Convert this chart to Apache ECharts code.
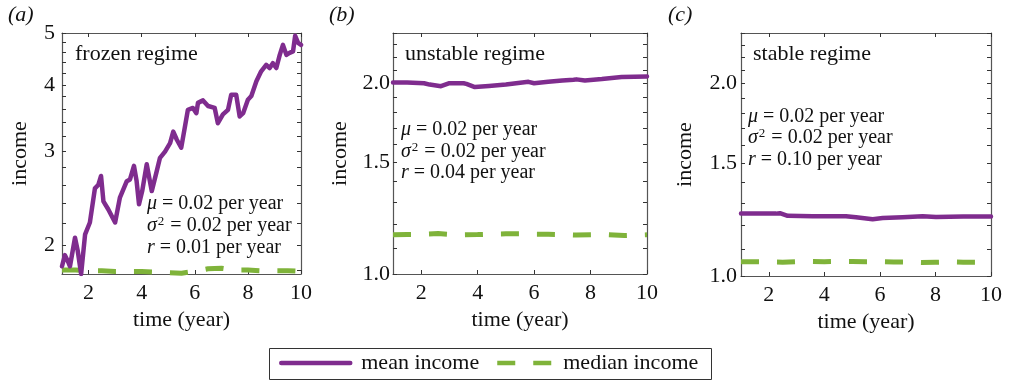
<!DOCTYPE html>
<html>
<head>
<meta charset="utf-8">
<script src="https://cdn.jsdelivr.net/npm/echarts@6/dist/echarts.min.js"></script>
<style>
html, body { margin: 0; padding: 0; background: #fff; }
#chart { width: 1010px; height: 382px; }
</style>
</head>
<body>
<div id="chart"></div>
<script>
// Panel texts
const panelLabels = ['(a)', '(b)', '(c)'];
const regimeNames = ['frozen regime', 'unstable regime', 'stable regime'];
const muValues = ['0.02', '0.02', '0.02'];
const sigma2Values = ['0.02', '0.02', '0.02'];
const rValues = ['0.01', '0.04', '0.10'];
const seriesNames = ['mean income', 'median income'];

// Tick values
const xTicks = [2, 4, 6, 8, 10];
const frozenTickLabels = [2, 3, 4, 5];
const frozenMinorTicks = [1.8, 2.0, 2.2, 2.4, 2.6, 2.8, 3.0, 3.2, 3.4, 3.6, 3.8, 4.0, 4.2, 4.4, 4.6, 4.8, 5.0];
const otherTickLabels = [1.0, 1.5, 2.0];
const otherMinorTicks = [1.0, 1.1, 1.2, 1.3, 1.4, 1.5, 1.6, 1.7, 1.8, 1.9, 2.0, 2.1, 2.2, 2.3, 2.4];

// (a) frozen regime: [time (year), income]
const frozenMean = [
  [1.00, 1.83], [1.11, 1.92], [1.22, 1.87], [1.30, 1.83], [1.49, 2.07], [1.59, 1.96],
  [1.72, 1.77], [1.87, 2.10], [2.05, 2.21], [2.24, 2.56], [2.37, 2.60], [2.47, 2.70],
  [2.56, 2.42], [2.74, 2.34], [3.00, 2.21], [3.18, 2.46], [3.44, 2.64], [3.56, 2.66],
  [3.71, 2.82], [3.81, 2.64], [3.90, 2.39], [4.02, 2.53], [4.19, 2.84], [4.38, 2.53],
  [4.57, 2.76], [4.69, 2.92], [4.88, 3.00], [5.07, 3.11], [5.19, 3.27], [5.32, 3.16],
  [5.49, 3.05], [5.62, 3.32], [5.74, 3.59], [5.93, 3.62], [6.06, 3.54], [6.12, 3.70],
  [6.31, 3.74], [6.50, 3.65], [6.75, 3.62], [6.87, 3.39], [7.06, 3.52], [7.25, 3.59],
  [7.37, 3.83], [7.56, 3.83], [7.69, 3.49], [7.82, 3.54], [8.00, 3.75], [8.13, 3.81],
  [8.32, 4.06], [8.50, 4.24], [8.69, 4.36], [8.82, 4.30], [8.94, 4.39], [9.07, 4.30],
  [9.20, 4.55], [9.32, 4.75], [9.45, 4.55], [9.57, 4.59], [9.70, 4.62], [9.78, 4.94],
  [9.89, 4.79], [10.00, 4.75]
];
const frozenMedian = [
  [1.0, 1.80], [1.5, 1.80], [2.0, 1.795], [2.5, 1.795], [3.0, 1.79], [3.5, 1.79],
  [4.0, 1.79], [4.5, 1.785], [5.0, 1.78], [5.5, 1.776], [6.0, 1.79], [6.5, 1.81],
  [7.0, 1.815], [7.5, 1.80], [8.0, 1.80], [8.5, 1.795], [9.0, 1.795], [9.5, 1.795], [10.0, 1.79]
];

// (b) unstable regime
const unstableMean = [
  [1.0, 2.005], [1.5, 2.005], [2.1, 2.0], [2.3, 1.99], [2.7, 1.978], [3.0, 2.0],
  [3.5, 2.0], [3.6, 1.995], [3.9, 1.972], [4.4, 1.98], [5.0, 1.99], [5.8, 2.01],
  [5.85, 2.015], [6.0, 2.0], [6.5, 2.01], [7.0, 2.02], [7.4, 2.025], [7.5, 2.028],
  [7.8, 2.02], [8.4, 2.03], [9.1, 2.045], [10.0, 2.05]
];
const unstableMedian = [
  [1.0, 1.153], [1.5, 1.154], [2.0, 1.155], [2.6, 1.158], [3.0, 1.155], [3.5, 1.153],
  [4.0, 1.154], [4.5, 1.156], [5.0, 1.157], [5.5, 1.157], [6.0, 1.155], [6.5, 1.155],
  [7.0, 1.154], [7.5, 1.152], [8.0, 1.153], [8.5, 1.154], [9.2, 1.150], [10.0, 1.153]
];

// (c) stable regime
const stableMean = [
  [1.0, 1.252], [2.26, 1.252], [2.4, 1.254], [2.68, 1.242], [3.58, 1.240], [4.78, 1.240],
  [5.14, 1.236], [5.74, 1.227], [6.1, 1.232], [6.82, 1.236], [7.54, 1.240], [8.02, 1.237],
  [9.0, 1.239], [10.0, 1.239]
];
const stableMedian = [
  [1.0, 1.053], [1.5, 1.053], [2.0, 1.052], [2.5, 1.051], [3.0, 1.053], [3.5, 1.054],
  [4.0, 1.053], [4.5, 1.054], [5.0, 1.054], [5.5, 1.053], [6.0, 1.053], [6.5, 1.052],
  [7.0, 1.052], [7.5, 1.050], [8.0, 1.051], [8.5, 1.052], [9.0, 1.051], [10.0, 1.051]
];

const meanData = [frozenMean, unstableMean, stableMean];
const medianData = [frozenMedian, unstableMedian, stableMedian];

const FONT = '"Liberation Serif", "Times New Roman", serif';
const INK = '#111';
const AXIS = '#555';
const PURPLE = '#7f2c8e';
const GREEN = '#7fb33a';
const FS = 22;      // axis, title and legend text
const FS_ANN = 20;  // parameter annotations

// Plot boxes (pixels) and axis settings per panel
const boxes = [
  { left: 62, top: 33, width: 239, height: 241 },
  { left: 393, top: 33, width: 254, height: 241 },
  { left: 741, top: 33, width: 250, height: 243 }
];
const yRanges = [[1.77, 5], [1, 2.4], [1, 2.4]];
const yLabelMargins = [7, 3, 4];
const yNameGaps = [31, 42, 45];
const textBlocks = [
  { titleX: 75, titleY: 54, annX: 147, annY: [204, 226, 248] },
  { titleX: 405, titleY: 54, annX: 401, annY: [130, 152, 173] },
  { titleX: 753, titleY: 54, annX: 748, annY: [117, 138, 160] }
];
const labelX = [8, 329, 668];

const grids = [], xAxes = [], yAxes = [], series = [], graphics = [];

boxes.forEach((b, i) => {
  grids.push({ left: b.left, top: b.top, width: b.width, height: b.height, containLabel: false });
  const tickStyle = { lineStyle: { color: '#333', width: 1 } };
  // bottom + mirrored top x axes
  xAxes.push({
    type: 'value', gridIndex: i, min: 1, max: 10, position: 'bottom',
    name: 'time (year)', nameLocation: 'middle', nameGap: 31,
    nameTextStyle: { fontFamily: FONT, fontSize: FS, color: INK },
    axisLine: { show: true, onZero: false, lineStyle: { color: AXIS, width: 1.2 } },
    axisTick: Object.assign({ show: true, inside: true, length: 4, customValues: xTicks }, tickStyle),
    axisLabel: { show: true, customValues: xTicks, margin: 8, fontFamily: FONT, fontSize: FS, color: INK },
    splitLine: { show: false }
  });
  xAxes.push({
    type: 'value', gridIndex: i, min: 1, max: 10, position: 'top',
    axisLine: { show: true, onZero: false, lineStyle: { color: AXIS, width: 1.2 } },
    axisTick: Object.assign({ show: true, inside: true, length: 4, customValues: xTicks }, tickStyle),
    axisLabel: { show: false }, splitLine: { show: false }
  });
  const labels = i === 0 ? frozenTickLabels : otherTickLabels;
  const minors = i === 0 ? frozenMinorTicks : otherMinorTicks;
  yAxes.push({
    type: 'log', logBase: 10, gridIndex: i, min: yRanges[i][0], max: yRanges[i][1], position: 'left',
    name: 'income', nameLocation: 'middle', nameGap: yNameGaps[i],
    nameTextStyle: { fontFamily: FONT, fontSize: FS, color: INK },
    axisLine: { show: true, onZero: false, lineStyle: { color: AXIS, width: 1.2 } },
    axisTick: Object.assign({ show: true, inside: true, length: 4, customValues: minors }, tickStyle),
    axisLabel: {
      show: true, customValues: labels, margin: yLabelMargins[i],
      fontFamily: FONT, fontSize: FS, color: INK,
      formatter: v => (i === 0 ? String(Math.round(v)) : Number(v).toFixed(1))
    },
    splitLine: { show: false }
  });
  yAxes.push({
    type: 'log', logBase: 10, gridIndex: i, min: yRanges[i][0], max: yRanges[i][1], position: 'right',
    axisLine: { show: true, onZero: false, lineStyle: { color: AXIS, width: 1.2 } },
    axisTick: Object.assign({ show: true, inside: true, length: 4, customValues: minors }, tickStyle),
    axisLabel: { show: false }, splitLine: { show: false }
  });

  series.push({
    name: seriesNames[1], type: 'line', xAxisIndex: 2 * i, yAxisIndex: 2 * i,
    data: medianData[i], symbol: 'none', clip: true, z: 2,
    lineStyle: { color: GREEN, width: 5, type: [18, 18], cap: 'butt' },
    itemStyle: { color: GREEN }
  });
  series.push({
    name: seriesNames[0], type: 'line', xAxisIndex: 2 * i, yAxisIndex: 2 * i,
    data: meanData[i], symbol: 'none', clip: true, z: 3,
    lineStyle: { color: PURPLE, width: 4.5, join: 'round', cap: 'round' },
    itemStyle: { color: PURPLE }
  });

  // panel letter
  graphics.push({
    type: 'text', x: labelX[i], y: 15,
    style: { text: panelLabels[i], font: 'italic 22px ' + FONT, fill: INK, textVerticalAlign: 'middle' }
  });
  const t = textBlocks[i];
  graphics.push({
    type: 'text', x: t.titleX, y: t.titleY,
    style: { text: regimeNames[i], font: FS + 'px ' + FONT, fill: INK, textVerticalAlign: 'middle' }
  });
  const lines = [
    '{it|μ} = ' + muValues[i] + ' per year',
    '{it|σ}{sup|2} = ' + sigma2Values[i] + ' per year',
    '{it|r} = ' + rValues[i] + ' per year'
  ];
  lines.forEach((s, k) => {
    graphics.push({
      type: 'text', x: t.annX, y: t.annY[k],
      style: {
        text: s, font: FS_ANN + 'px ' + FONT, fill: INK, textVerticalAlign: 'middle',
        rich: {
          it: { fontStyle: 'italic', fontFamily: FONT, fontSize: FS_ANN, fill: INK },
          sup: { fontFamily: FONT, fontSize: 13, fill: INK, verticalAlign: 'top', padding: [0, 1, 8, 1] }
        }
      }
    });
  });
});

// legend frame
graphics.push({
  type: 'rect', shape: { x: 269.5, y: 348.5, width: 442, height: 31 },
  style: { fill: 'none', stroke: '#333', lineWidth: 1 }, silent: true
});

const option = {
  animation: false,
  backgroundColor: '#fff',
  grid: grids,
  xAxis: xAxes,
  yAxis: yAxes,
  legend: [
    {
      data: [seriesNames[0]], left: 279, top: 352, itemWidth: 69, itemHeight: 14,
      padding: 0, textStyle: { fontFamily: FONT, fontSize: FS, color: INK, padding: [0, 0, 0, 6] },
      lineStyle: { width: 4.5 }, itemStyle: { opacity: 0 }, selectedMode: false
    },
    {
      data: [seriesNames[1]], left: 495, top: 352, itemWidth: 57, itemHeight: 14,
      padding: 0, textStyle: { fontFamily: FONT, fontSize: FS, color: INK, padding: [0, 0, 0, 4] },
      lineStyle: { width: 4.5 }, itemStyle: { opacity: 0 }, selectedMode: false
    }
  ],
  series: series,
  graphic: graphics
};

const chart = echarts.init(document.getElementById('chart'), null, { renderer: 'canvas' });
chart.setOption(option);
</script>
</body>
</html>
